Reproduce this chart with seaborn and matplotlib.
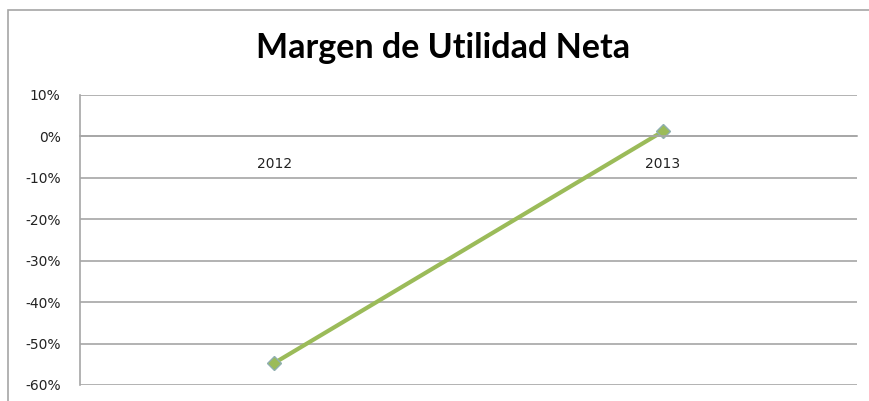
import matplotlib
matplotlib.use("Agg")
import matplotlib.pyplot as plt
import seaborn as sns
import pandas as pd
from matplotlib.patches import Rectangle
from matplotlib.ticker import FuncFormatter, FixedLocator

years = ["2012", "2013"]
margin = [-0.547, 0.012]
title = "Margen de Utilidad Neta"

sns.set_style("white")
plt.rcParams['font.family'] = ['DejaVu Sans']

df = pd.DataFrame({"year": years, "margin": margin})

fig = plt.figure(figsize=(8.7, 4.01), dpi=100)
ax = fig.add_axes([80/870, 1-385/401, (857-80)/870, (385-95)/401])

sns.lineplot(data=df, x="year", y="margin", ax=ax, color="#9BBB59", linewidth=3,
             marker="D", markersize=7, markerfacecolor="#9BBB59",
             markeredgecolor="#8FAFB0", markeredgewidth=1)

ax.set_xlim(-0.5, 1.5)
ax.set_ylim(-0.6, 0.1)
ax.yaxis.set_major_locator(FixedLocator([0.1, 0, -0.1, -0.2, -0.3, -0.4, -0.5, -0.6]))
ax.yaxis.set_major_formatter(FuncFormatter(lambda v, p: f"{round(v*100):d}%"))
ax.grid(axis="y", color="#A6A6A6", linewidth=1.2)
ax.grid(axis="x", visible=False)
ax.set_axisbelow(True)

for s in ["top", "right"]:
    ax.spines[s].set_visible(False)
ax.spines["left"].set_color("#A6A6A6")
ax.spines["left"].set_linewidth(1.2)
ax.spines["bottom"].set_position(("data", 0))
ax.spines["bottom"].set_color("#A6A6A6")
ax.spines["bottom"].set_linewidth(1.2)

ax.tick_params(axis="y", which="major", length=7, width=1.2, color="#A6A6A6",
               labelsize=10, labelcolor="#222222", pad=7)
ax.set_xticks([0, 1])
ax.set_xticks([-0.5, 0.5, 1.5], minor=True)
ax.tick_params(axis="x", which="major", length=0, labelsize=10, labelcolor="#222222", pad=15)
ax.tick_params(axis="x", which="minor", length=7, width=1.2, color="#A6A6A6")
ax.set_xlabel("")
ax.set_ylabel("")

fig.text(443/870, 1-48/401, title, ha="center", va="center", fontsize=24.5,
         fontweight="bold", color="#000000", family=["Lato", "DejaVu Sans"])

fig.patches.append(Rectangle((8/870, -0.1), 1.2, 1-10/401+0.1, transform=fig.transFigure,
                             fill=False, edgecolor="#A6A6A6", linewidth=1.2))

fig.savefig("out.png", dpi=100)
